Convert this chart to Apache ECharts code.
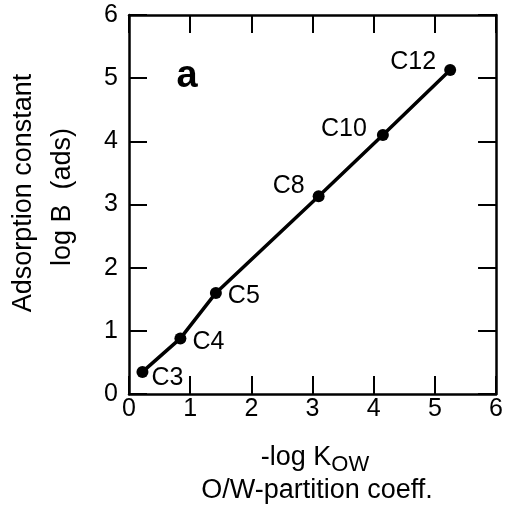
<!DOCTYPE html>
<html>
<head>
<meta charset="utf-8">
<script src="https://cdn.jsdelivr.net/npm/echarts@6/dist/echarts.min.js"></script>
<style>
html,body{margin:0;padding:0;background:#fff;}
#chart{width:506px;height:513px;}
</style>
</head>
<body>
<div id="chart"></div>
<script>
// ---- data ----
const compounds = ['C3', 'C4', 'C5', 'C8', 'C10', 'C12'];
const negLogKow = [0.22, 0.84, 1.42, 3.10, 4.15, 5.25];
const logBads   = [0.35, 0.88, 1.60, 3.13, 4.10, 5.13];
const xTickLabels = ['0', '1', '2', '3', '4', '5', '6'];
const yTickLabels = ['0', '1', '2', '3', '4', '5', '6'];
const panelLetter = 'a';
const yTitleLines = ['Adsorption constant', 'log B  (ads)'];
const xTitleMain = '-log K';
const xTitleSub = 'OW';
const xTitleLine2 = 'O/W-partition coeff.';

// ---- label placement (style only) ----
const labelPlace = {
  C3:  {position: 'right', offset: [-3, 6]},
  C4:  {position: 'right', offset: [0, 4]},
  C5:  {position: 'right', offset: [0, 3]},
  C8:  {position: 'left',  offset: [-2, -10]},
  C10: {position: 'left',  offset: [-4, -6]},
  C12: {position: 'left',  offset: [-2, -8]}
};

const FONT = '"Liberation Sans", Arial, Helvetica, sans-serif';
const seriesData = compounds.map((n, i) => ({
  name: n,
  value: [negLogKow[i], logBads[i]],
  label: Object.assign({show: true, formatter: n}, labelPlace[n])
}));

const axisCommon = {
  type: 'value', min: 0, max: 6, interval: 1,
  axisLine: {show: true, onZero: false, lineStyle: {color: '#000', width: 2.5}},
  axisTick: {show: true, inside: true, length: 18, lineStyle: {color: '#000', width: 2}},
  splitLine: {show: false}
};

const chart = echarts.init(document.getElementById('chart'), null, {renderer: 'canvas'});
chart.setOption({
  backgroundColor: '#fff',
  animation: false,
  grid: {left: 129, right: 4, top: 15, bottom: 119, containLabel: false},
  xAxis: [
    Object.assign({}, axisCommon, {
      position: 'bottom',
      axisLabel: {show: true, margin: 3, color: '#000', fontSize: 25, fontFamily: FONT,
        formatter: v => xTickLabels[Math.round(v)]}
    }),
    Object.assign({}, axisCommon, {position: 'top', axisLabel: {show: false}})
  ],
  yAxis: [
    Object.assign({}, axisCommon, {
      position: 'left',
      axisLabel: {show: true, margin: 11, color: '#000', fontSize: 25, fontFamily: FONT,
        formatter: v => yTickLabels[Math.round(v)]}
    }),
    Object.assign({}, axisCommon, {position: 'right', axisLabel: {show: false}})
  ],
  series: [{
    type: 'line',
    xAxisIndex: 0, yAxisIndex: 0,
    data: seriesData,
    symbol: 'circle', symbolSize: 12,
    itemStyle: {color: '#000'},
    lineStyle: {color: '#000', width: 3.5},
    label: {color: '#000', fontSize: 25, fontFamily: FONT, distance: 6},
    z: 5
  }],
  graphic: [
    {type: 'text', x: 187, y: 77, style: {text: panelLetter, fontSize: 38, fontWeight: 'bold',
      fontFamily: FONT, fill: '#000', align: 'center', verticalAlign: 'middle'}},
    {type: 'text', x: 24, y: 193, rotation: Math.PI / 2, style: {text: yTitleLines[0], fontSize: 27,
      fontFamily: FONT, fill: '#000', align: 'center', verticalAlign: 'middle'}},
    {type: 'text', x: 63, y: 197, rotation: Math.PI / 2, style: {text: yTitleLines[1], fontSize: 27,
      fontFamily: FONT, fill: '#000', align: 'center', verticalAlign: 'middle'}},
    {type: 'text', x: 315, y: 476, style: {
      text: '{m|' + xTitleMain + '}{s|' + xTitleSub + '}',
      align: 'center', verticalAlign: 'bottom', fill: '#000',
      rich: {
        m: {fontSize: 27, fontFamily: FONT, color: '#000'},
        s: {fontSize: 22, fontFamily: FONT, color: '#000', padding: [14, 0, 0, 0]}
      }}},
    {type: 'text', x: 317, y: 491, style: {text: xTitleLine2, fontSize: 27,
      fontFamily: FONT, fill: '#000', align: 'center', verticalAlign: 'middle'}}
  ]
});
</script>
</body>
</html>
